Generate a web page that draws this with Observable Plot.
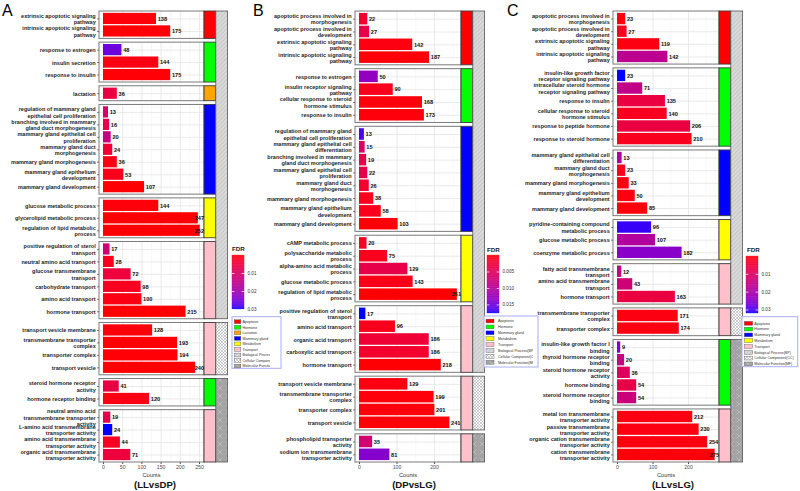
<!DOCTYPE html>
<html><head><meta charset="utf-8">
<script src="https://cdn.jsdelivr.net/npm/d3@7"></script>
<script src="https://cdn.jsdelivr.net/npm/@observablehq/plot@0.6"></script>
<style>
body{margin:0;background:#fff;font-family:"Liberation Sans",Arial,sans-serif;}
#root{position:relative;width:800px;height:491px;overflow:hidden;background:#fff;}
.abs{position:absolute;top:0;}
</style></head><body>
<svg width="0" height="0" style="position:absolute">
<defs>
<pattern id="patBP" patternUnits="userSpaceOnUse" width="3" height="3" patternTransform="rotate(45)">
<rect width="3" height="3" fill="#d9d9d9"/><line x1="0" y1="0" x2="0" y2="3" stroke="#b5b5b5" stroke-width="1"/>
</pattern>
<pattern id="patCC" patternUnits="userSpaceOnUse" width="3" height="3">
<rect width="3" height="3" fill="#ffffff"/><path d="M0,0L3,3M3,0L0,3" stroke="#9a9a9a" stroke-width="0.5"/>
</pattern>
<pattern id="patMF" patternUnits="userSpaceOnUse" width="8" height="8">
<rect width="8" height="8" fill="#a3a3a3"/><path d="M1.5,1.5L6.5,6.5M6.5,1.5L1.5,6.5" stroke="#cacaca" stroke-width="0.6"/>
</pattern>
</defs></svg>
<div id="root"></div>
<script>
// ---------- categories ----------
const APO = "Apoptosis", HOR = "Hormone", LAC = "Lactation", MAM = "Mammary gland", MET = "Metabolism", TRA = "Transport";
const categoryNames = [APO, HOR, LAC, MAM, MET, TRA];
const categoryColors = ["#FF0000", "#00FF00", "#FFA500", "#0000FF", "#FFFF00", "#FFC0CB"];
const domainNames = ["BP", "CC", "MF"];
const domainLabels = ["Biological Process(BP)", "Cellular Component(CC)", "Molecular Function(MF)"];

// ---------- Panel A (LLvsDP) ----------
const termsA = [
 "extrinsic apoptotic signaling\npathway","intrinsic apoptotic signaling\npathway",
 "response to estrogen","insulin secretion","response to insulin",
 "lactation",
 "regulation of mammary gland\nepithelial cell proliferation","branching involved in mammary\ngland duct morphogenesis","mammary gland epithelial cell\nproliferation","mammary gland duct\nmorphogenesis","mammary gland morphogenesis","mammary gland epithelium\ndevelopment","mammary gland development",
 "glucose metabolic process","glycerolipid metabolic process","regulation of lipid metabolic\nprocess",
 "positive regulation of sterol\ntransport","neutral amino acid transport","glucose transmembrane\ntransport","carbohydrate transport","amino acid transport","hormone transport",
 "transport vesicle membrane","transmembrane transporter\ncomplex","transporter complex","transport vesicle",
 "steroid hormone receptor\nactivity","hormone receptor binding",
 "neutral amino acid\ntransmembrane transporter\nactivity","L-amino acid transmembrane\ntransporter activity","amino acid transmembrane\ntransporter activity","organic acid transmembrane\ntransporter activity"];
const countsA = [138,175, 48,144,175, 36, 13,16,20,24,36,53,107, 144,247,252, 17,28,72,98,100,215, 128,193,194,240, 41,120, 19,24,44,71];
const fdrA = [0.0005,0.0003, 0.026,0.001,0.0003, 0.006, 0.011,0.007,0.014,0.004,0.001,0.0015,0.0002, 0.0005,0.0001,0.0001, 0.012,0.002,0.005,0.002,0.001,0.0001, 0.0005,0.0003,0.0003,0.0002, 0.006,0.001, 0.007,0.03,0.002,0.005];
const categoryA = [APO,APO, HOR,HOR,HOR, LAC, MAM,MAM,MAM,MAM,MAM,MAM,MAM, MET,MET,MET, TRA,TRA,TRA,TRA,TRA,TRA, TRA,TRA,TRA,TRA, HOR,HOR, TRA,TRA,TRA,TRA];
const domainA = ["BP","BP","BP","BP","BP","BP","BP","BP","BP","BP","BP","BP","BP","BP","BP","BP","BP","BP","BP","BP","BP","BP", "CC","CC","CC","CC", "MF","MF","MF","MF","MF","MF"];
const fdrTicksA = [0.01, 0.02, 0.03];

// ---------- Panel B (DPvsLG) ----------
const termsB = [
 "apoptotic process involved in\nmorphogenesis","apoptotic process involved in\ndevelopment","extrinsic apoptotic signaling\npathway","intrinsic apoptotic signaling\npathway",
 "response to estrogen","insulin receptor signaling\npathway","cellular response to steroid\nhormone stimulus","response to insulin",
 "regulation of mammary gland\nepithelial cell proliferation","mammary gland epithelial cell\ndifferentiation","branching involved in mammary\ngland duct morphogenesis","mammary gland epithelial cell\nproliferation","mammary gland duct\nmorphogenesis","mammary gland morphogenesis","mammary gland epithelium\ndevelopment","mammary gland development",
 "cAMP metabolic process","polysaccharide metabolic\nprocess","alpha-amino acid metabolic\nprocess","glucose metabolic process","regulation of lipid metabolic\nprocess",
 "positive regulation of sterol\ntransport","amino acid transport","organic acid transport","carboxylic acid transport","hormone transport",
 "transport vesicle membrane","transmembrane transporter\ncomplex","transporter complex","transport vesicle",
 "phospholipid transporter\nactivity","sodium ion transmembrane\ntransporter activity"];
const countsB = [22,27,142,187, 50,90,168,173, 13,15,19,22,26,38,58,103, 20,75,129,143,261, 17,96,186,186,218, 129,199,201,241, 35,81];
const fdrB = [0.002,0.004,0.0005,0.0002, 0.013,0.001,0.0003,0.0003, 0.0165,0.006,0.004,0.004,0.002,0.001,0.001,0.0002, 0.0015,0.001,0.004,0.0008,0.0001, 0.0176,0.001,0.0025,0.002,0.0001, 0.0005,0.0003,0.0003,0.0002, 0.007,0.014];
const categoryB = [APO,APO,APO,APO, HOR,HOR,HOR,HOR, MAM,MAM,MAM,MAM,MAM,MAM,MAM,MAM, MET,MET,MET,MET,MET, TRA,TRA,TRA,TRA,TRA, TRA,TRA,TRA,TRA, TRA,TRA];
const domainB = ["BP","BP","BP","BP","BP","BP","BP","BP","BP","BP","BP","BP","BP","BP","BP","BP","BP","BP","BP","BP","BP","BP","BP","BP","BP","BP", "CC","CC","CC","CC", "MF","MF"];
const fdrTicksB = [0.005, 0.010, 0.015];

// ---------- Panel C (LLvsLG) ----------
const termsC = [
 "apoptotic process involved in\nmorphogenesis","apoptotic process involved in\ndevelopment","extrinsic apoptotic signaling\npathway","intrinsic apoptotic signaling\npathway",
 "insulin-like growth factor\nreceptor signaling pathway","intracellular steroid hormone\nreceptor signaling pathway","response to insulin","cellular response to steroid\nhormone stimulus","response to peptide hormone","response to steroid hormone",
 "mammary gland epithelial cell\ndifferentiation","mammary gland duct\nmorphogenesis","mammary gland morphogenesis","mammary gland epithelium\ndevelopment","mammary gland development",
 "pyridine-containing compound\nmetabolic process","glucose metabolic process","coenzyme metabolic process",
 "fatty acid transmembrane\ntransport","amino acid transmembrane\ntransport","hormone transport",
 "transmembrane transporter\ncomplex","transporter complex",
 "insulin-like growth factor I\nbinding","thyroid hormone receptor\nbinding","steroid hormone receptor\nactivity","hormone binding","steroid hormone receptor\nbinding",
 "metal ion transmembrane\ntransporter activity","passive transmembrane\ntransporter activity","organic cation transmembrane\ntransporter activity","cation transmembrane\ntransporter activity"];
const countsC = [23,27,119,142, 23,71,135,140,206,210, 13,23,33,50,85, 96,107,182, 12,43,163, 171,174, 9,20,36,54,54, 212,230,254,275];
const fdrC = [0.001,0.002,0.001,0.017, 0.032,0.016,0.006,0.002,0.006,0.002, 0.019,0.002,0.001,0.001,0.0005, 0.031,0.019,0.025, 0.015,0.013,0.006, 0.001,0.001, 0.026,0.015,0.01,0.007,0.014, 0.001,0.001,0.001,0.0005];
const categoryC = [APO,APO,APO,APO, HOR,HOR,HOR,HOR,HOR,HOR, MAM,MAM,MAM,MAM,MAM, MET,MET,MET, TRA,TRA,TRA, TRA,TRA, HOR,HOR,HOR,HOR,HOR, TRA,TRA,TRA,TRA];
const domainC = ["BP","BP","BP","BP","BP","BP","BP","BP","BP","BP","BP","BP","BP","BP","BP","BP","BP","BP","BP","BP","BP", "CC","CC", "MF","MF","MF","MF","MF","MF","MF","MF","MF"];
const fdrTicksC = [0.01, 0.02, 0.03];

// ---------- helpers ----------
const FONT = "Liberation Sans, Arial, Helvetica, sans-serif";
const GAP = 0.3;
const catColor = c => categoryColors[categoryNames.indexOf(c)];
const domFill = {BP: "url(#patBP)", CC: "url(#patCC)", MF: "url(#patMF)"};

function build(terms, counts, fdr, cats, doms) {
  const groups = [];
  terms.forEach((t, i) => {
    const g = groups[groups.length - 1];
    if (g && g.cat === cats[i] && g.dom === doms[i]) g.idx.push(i);
    else groups.push({cat: cats[i], dom: doms[i], idx: [i]});
  });
  const rows = []; let pos = 0;
  groups.forEach((g, k) => {
    if (k) pos += GAP;
    g.y1 = pos;
    g.idx.forEach((i, j) => rows.push({term: terms[i], count: counts[i], fdr: fdr[i], y: pos + 0.6 + j}));
    pos += g.idx.length + 0.2;
    g.y2 = pos;
  });
  const domains = [];
  groups.forEach(g => {
    const d = domains[domains.length - 1];
    if (d && d.dom === g.dom) d.y2 = g.y2; else domains.push({dom: g.dom, y1: g.y1, y2: g.y2});
  });
  return {groups, rows, domains, T: pos};
}

function colorScale(fmax) {
  return {type: "linear", domain: [0, fmax], range: ["#FF0000", "#0000FF"], interpolate: "lab"};
}

function panel(cfg) {
  const {terms, counts, fdr, cats, doms, width, ML, MR, xmin, xmax, ticks, minor, fmax} = cfg;
  const {groups, rows, domains, T} = build(terms, counts, fdr, cats, doms);
  const ppu = (width - ML - MR) / (xmax - xmin);
  const sw = 11.8 / ppu;
  const limit = xmax - 10.7 / ppu;
  const normal = rows.filter(d => d.count <= limit), clamped = rows.filter(d => d.count > limit);
  const grid = (vals) => groups.flatMap(g => vals.map(v => ({v, y1: g.y1, y2: g.y2})));
  const marks = [
    Plot.rect(groups, {x1: () => xmin, x2: () => xmax, y1: "y1", y2: "y2", fill: "white"}),
    Plot.ruleX(grid(minor), {x: "v", y1: "y1", y2: "y2", stroke: "#f0f0f0", strokeWidth: 0.5}),
    Plot.ruleX(grid(ticks), {x: "v", y1: "y1", y2: "y2", stroke: "#e4e4e4", strokeWidth: 0.8}),
    Plot.ruleY(rows, {y: "y", x1: () => xmin, x2: () => xmax, stroke: "#e4e4e4", strokeWidth: 0.8}),
    Plot.rect(rows, {x1: () => 0, x2: "count", y1: d => d.y - 0.45, y2: d => d.y + 0.45, fill: "fdr"}),
    Plot.rect(groups, {x1: () => xmin, x2: () => xmax, y1: "y1", y2: "y2", fill: "none", stroke: "#7a7a7a", strokeWidth: 1}),
    ...categoryNames.map(c => Plot.rect(groups.filter(g => g.cat === c), {
      x1: () => xmax, x2: () => xmax + sw, y1: "y1", y2: "y2", fill: catColor(c), stroke: "#3a3a3a", strokeWidth: 0.9})),
    ...domainNames.map(dn => Plot.rect(domains.filter(d => d.dom === dn), {
      x1: () => xmax + sw, x2: () => xmax + 2 * sw, y1: "y1", y2: "y2", fill: domFill[dn], stroke: "#555", strokeWidth: 0.8})),
    Plot.ruleY(rows, {y: "y", x1: () => xmin - 2 / ppu, x2: () => xmin, stroke: "#333", strokeWidth: 0.6}),
    Plot.text(rows, {x: () => xmin, y: "y", text: "term", textAnchor: "end", dx: -3.8, fontSize: 5.5, fontWeight: "bold", lineHeight: 1.15, fill: "#1e1e1e"}),
    Plot.text(normal, {x: "count", y: "y", text: d => String(d.count), textAnchor: "start", dx: 1.2, fontSize: 5.6, fontWeight: "bold", fill: "#111"}),
    Plot.text(clamped, {x: () => xmax, y: "y", text: d => String(d.count), textAnchor: "end", dx: -0.4, fontSize: 5.6, fontWeight: "bold", fill: "#111"})
  ];
  return Plot.plot({
    width, height: 491, marginLeft: ML, marginRight: MR, marginTop: 11, marginBottom: 29,
    x: {domain: [xmin, xmax], ticks, tickSize: 2, tickPadding: 1, label: null},
    y: {domain: [0, T], reverse: true, axis: null},
    color: colorScale(fmax),
    style: {fontFamily: FONT, fontSize: "5.2px", color: "#4d4d4d", background: "transparent", overflow: "visible"},
    marks
  });
}

function colorbar(fmax, ticks, fmt, h) {
  const n = 90;
  const steps = d3.range(n).map(i => ({a: i * fmax / n, b: (i + 1) * fmax / n, v: (i + 0.5) * fmax / n}));
  return Plot.plot({
    width: 42, height: h, marginLeft: 0, marginRight: 30, marginTop: 0, marginBottom: 0,
    x: {domain: [0, 1], axis: null},
    y: {domain: [0, fmax], reverse: true, axis: "right", ticks, tickFormat: fmt, tickSize: 0, tickPadding: 3, label: null},
    color: colorScale(fmax),
    style: {fontFamily: FONT, fontSize: "4.6px", color: "#333", background: "transparent", overflow: "visible"},
    marks: [
      Plot.rect(steps, {x1: () => 0, x2: () => 1, y1: "a", y2: "b", fill: "v", stroke: "v", strokeWidth: 0.3}),
      Plot.ruleY(ticks, {x1: () => 0, x2: () => 0.2, stroke: "white", strokeWidth: 0.7}),
      Plot.ruleY(ticks, {x1: () => 0.8, x2: () => 1, stroke: "white", strokeWidth: 0.7})
    ]
  });
}

const root = document.getElementById("root");
function place(el, left, top) {
  const d = document.createElement("div");
  d.className = "abs"; d.style.left = left + "px"; d.style.top = top + "px";
  d.appendChild(el); root.appendChild(d);
}

place(panel({terms: termsA, counts: countsA, fdr: fdrA, cats: categoryA, doms: domainA,
  width: 270, ML: 99, MR: 66, xmin: -10.4, xmax: 263, ticks: [0,50,100,150,200,250], minor: [25,75,125,175,225], fmax: 0.03}), 0, 0);
place(panel({terms: termsB, counts: countsB, fdr: fdrB, cats: categoryB, doms: domainB,
  width: 280, ML: 93, MR: 81, xmin: -10.7, xmax: 272, ticks: [0,100,200], minor: [50,150,250], fmax: 0.0176}), 262, 0);
place(panel({terms: termsC, counts: countsC, fdr: fdrC, cats: categoryC, doms: domainC,
  width: 273, ML: 86, MR: 81, xmin: -11.3, xmax: 287.3, ticks: [0,100,200], minor: [50,150,250], fmax: 0.032}), 527, 0);

place(colorbar(0.03, fdrTicksA, d3.format(".2f"), 54), 232, 255);
place(colorbar(0.0176, fdrTicksB, d3.format(".3f"), 58), 487, 255);
place(colorbar(0.032, fdrTicksC, d3.format(".2f"), 57), 746, 256);

// ---------- overlay texts & category legends ----------
const ov = d3.select(root).append("svg").attr("width", 800).attr("height", 491)
  .style("position", "absolute").style("left", 0).style("top", 0).style("font-family", FONT);

function txt(x, y, s, size, opts = {}) {
  ov.append("text").attr("x", x).attr("y", y).attr("font-size", size)
    .attr("font-weight", opts.bold ? "bold" : "normal").attr("text-anchor", opts.anchor || "start")
    .attr("fill", opts.fill || "#111").text(s);
}
txt(2, 15.5, "A", 16, {fill: "#000"});
txt(253, 15.5, "B", 16, {fill: "#000"});
txt(507, 15.5, "C", 16, {fill: "#000"});
[[151.5, 155, "(LLvsDP)"], [408, 414, "(DPvsLG)"], [666, 673, "(LLvsLG)"]].forEach(([cx, tx, t]) => {
  txt(cx, 476.8, "Counts", 5.7, {anchor: "middle", fill: "#333"});
  txt(tx, 488.3, t, 9.6, {anchor: "middle", bold: true});
});
txt(232, 251.2, "FDR", 6.2, {bold: true, fill: "#222"});
txt(487, 252, "FDR", 6.2, {bold: true, fill: "#222"});
txt(747, 252, "FDR", 6.2, {bold: true, fill: "#222"});

function catLegend(id, x, y, w, h, first, step, swX, swW, textX, clipRight, cats) {
  ov.append("rect").attr("x", x).attr("y", y).attr("width", w).attr("height", h)
    .attr("fill", "white").attr("stroke", "#a8acf5").attr("stroke-width", 1);
  ov.append("clipPath").attr("id", id).append("rect").attr("x", x).attr("y", y).attr("width", clipRight - x).attr("height", h);
  const g = ov.append("g").attr("clip-path", `url(#${id})`);
  const items = cats.map(c => ({label: c, fill: catColor(c)}))
    .concat(domainNames.map((d, i) => ({label: domainLabels[i], fill: domFill[d]})));
  items.forEach((it, i) => {
    const cy = first + i * step;
    g.append("rect").attr("x", swX).attr("y", cy - 1.9).attr("width", swW).attr("height", 3.8)
      .attr("fill", it.fill).attr("stroke", "#555").attr("stroke-width", 0.4);
    g.append("text").attr("x", textX).attr("y", cy + 1.3).attr("font-size", 3.6).attr("fill", "#333").text(it.label);
  });
}
catLegend("clA", 232, 316.7, 49, 51.6, 321.7, 5.55, 234.3, 6.5, 242.5, 270, [APO, HOR, LAC, MAM, MET, TRA]);
catLegend("clB", 484, 316, 54, 51, 321, 5.9, 486, 8, 498, 533, [APO, HOR, MAM, MET, TRA]);
catLegend("clC", 742, 316.7, 55.7, 50, 323.3, 5.8, 744.3, 8.4, 754.3, 798, [APO, HOR, MAM, MET, TRA]);
</script></body></html>
